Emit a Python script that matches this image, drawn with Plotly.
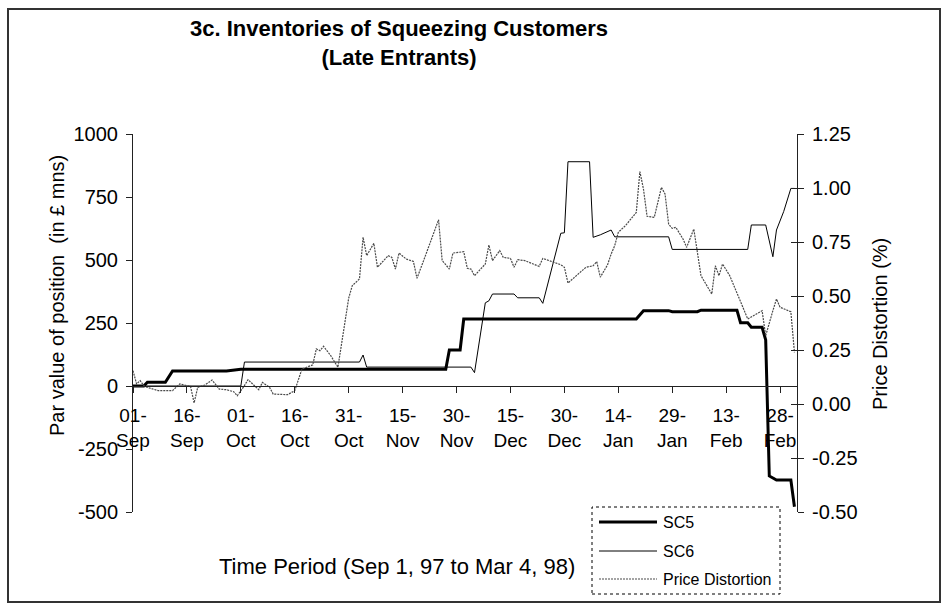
import plotly.graph_objects as go

# ---------------- data ----------------
sc5_dates = ["1997-09-01", "1997-09-04", "1997-09-05", "1997-09-10", "1997-09-12", "1997-09-27",
             "1997-10-01", "1997-11-27", "1997-11-28", "1997-12-01", "1997-12-02", "1998-01-19",
             "1998-01-21", "1998-01-28", "1998-01-29", "1998-02-05", "1998-02-06", "1998-02-16",
             "1998-02-17", "1998-02-19", "1998-02-20", "1998-02-23", "1998-02-24", "1998-02-25",
             "1998-02-27", "1998-03-03", "1998-03-04"]
sc5_values = [0, 0, 15, 15, 60, 60, 66, 66, 143, 143, 266, 266, 299, 299, 295, 295, 301, 301,
              251, 251, 233, 233, 183, -357, -373, -373, -479]

sc6_dates = ["1997-09-01", "1997-10-01", "1997-10-02", "1997-11-03", "1997-11-04", "1997-11-05",
             "1997-12-04", "1997-12-05", "1997-12-08", "1997-12-09", "1997-12-10", "1997-12-16",
             "1997-12-17", "1997-12-23", "1997-12-24", "1997-12-29", "1997-12-30", "1997-12-31",
             "1998-01-06", "1998-01-07", "1998-01-09", "1998-01-12", "1998-01-13", "1998-01-28",
             "1998-01-29", "1998-02-19", "1998-02-20", "1998-02-24", "1998-02-26", "1998-02-27",
             "1998-03-01", "1998-03-02", "1998-03-03", "1998-03-04"]
sc6_values = [0, 0, 95, 95, 123, 75, 75, 53, 330, 338, 365, 365, 350, 350, 328, 606, 608, 890,
              890, 590, 600, 619, 592, 592, 542, 542, 639, 639, 513, 619, 692, 740, 784, 784]

price_dates = ["1997-09-01", "1997-09-02", "1997-09-03", "1997-09-04", "1997-09-05", "1997-09-08",
               "1997-09-12", "1997-09-14", "1997-09-16", "1997-09-17", "1997-09-18", "1997-09-19",
               "1997-09-21", "1997-09-23", "1997-09-25", "1997-09-27", "1997-09-29", "1997-09-30",
               "1997-10-02", "1997-10-03", "1997-10-04", "1997-10-06", "1997-10-07", "1997-10-09",
               "1997-10-10", "1997-10-14", "1997-10-16", "1997-10-17", "1997-10-18", "1997-10-21",
               "1997-10-22", "1997-10-23", "1997-10-24", "1997-10-26", "1997-10-28", "1997-10-31",
               "1997-11-01", "1997-11-03", "1997-11-04", "1997-11-05", "1997-11-07", "1997-11-08",
               "1997-11-11", "1997-11-12", "1997-11-13", "1997-11-14", "1997-11-16", "1997-11-18",
               "1997-11-19", "1997-11-21", "1997-11-25", "1997-11-26", "1997-11-28", "1997-11-29",
               "1997-12-02", "1997-12-03", "1997-12-04", "1997-12-05", "1997-12-08", "1997-12-09",
               "1997-12-10", "1997-12-12", "1997-12-13", "1997-12-15", "1997-12-16", "1997-12-17",
               "1997-12-19", "1997-12-23", "1997-12-24", "1997-12-29", "1997-12-30", "1997-12-31",
               "1998-01-02", "1998-01-05", "1998-01-07", "1998-01-08", "1998-01-09", "1998-01-11",
               "1998-01-12", "1998-01-13", "1998-01-14", "1998-01-16", "1998-01-19", "1998-01-20",
               "1998-01-21", "1998-01-22", "1998-01-24", "1998-01-26", "1998-01-27", "1998-01-28",
               "1998-01-29", "1998-01-30", "1998-02-01", "1998-02-02", "1998-02-04", "1998-02-05",
               "1998-02-06", "1998-02-09", "1998-02-10", "1998-02-11", "1998-02-12", "1998-02-14",
               "1998-02-16", "1998-02-19", "1998-02-23", "1998-02-24", "1998-02-26", "1998-02-27",
               "1998-02-28", "1998-03-03", "1998-03-04"]
price_values = [0.154, 0.093, 0.108, 0.085, 0.077, 0.062, 0.062, 0.093, 0.085, 0.082, 0.005, 0.077,
                0.088, 0.111, 0.069, 0.066, 0.057, 0.038, 0.085, 0.113, 0.097, 0.066, 0.100, 0.077,
                0.046, 0.043, 0.062, 0.116, 0.162, 0.181, 0.255, 0.247, 0.267, 0.224, 0.170, 0.490,
                0.548, 0.579, 0.772, 0.687, 0.744, 0.633, 0.687, 0.679, 0.625, 0.699, 0.671, 0.660,
                0.582, 0.671, 0.853, 0.664, 0.625, 0.699, 0.705, 0.628, 0.625, 0.594, 0.648, 0.736,
                0.664, 0.710, 0.679, 0.674, 0.633, 0.668, 0.664, 0.637, 0.674, 0.645, 0.633, 0.560,
                0.591, 0.633, 0.640, 0.659, 0.587, 0.644, 0.694, 0.733, 0.795, 0.826, 0.887, 1.076,
                0.995, 0.869, 0.864, 1.003, 0.972, 0.833, 0.813, 0.818, 0.764, 0.725, 0.810, 0.702,
                0.594, 0.509, 0.640, 0.594, 0.648, 0.594, 0.517, 0.394, 0.432, 0.316, 0.432, 0.486,
                0.448, 0.427, 0.239]

series_names = ["SC5", "SC6", "Price Distortion"]

left_ticks = [-500, -250, 0, 250, 500, 750, 1000]
left_ticktext = ["-500", "-250", "0", "250", "500", "750", "1000"]
right_ticks = [-0.5, -0.25, 0, 0.25, 0.5, 0.75, 1.0, 1.25]
right_ticktext = ["-0.50", "-0.25", "0.00", "0.25", "0.50", "0.75", "1.00", "1.25"]

left_range = [-500, 1000]
right_range = [-0.5, 1.25]
x_start = "1997-09-01"
x_end = "1998-03-04 17:00"
FONT = "Liberation Sans, Arial, sans-serif"

styles = [
    dict(color="#000000", width=3),
    dict(color="#000000", width=1),
    dict(color="#4a4a4a", width=1.2, dash="2px,1px"),
]

# ---------------- figure ----------------
fig = go.Figure()
fig.add_trace(go.Scatter(x=sc5_dates, y=sc5_values, name=series_names[0], mode="lines",
                         line=styles[0], yaxis="y"))
fig.add_trace(go.Scatter(x=sc6_dates, y=sc6_values, name=series_names[1], mode="lines",
                         line=styles[1], yaxis="y"))
fig.add_trace(go.Scatter(x=price_dates, y=price_values, name=series_names[2], mode="lines",
                         line=styles[2], yaxis="y2"))
# carrier for the inside ticks of the right axis
fig.add_trace(go.Scatter(x=[x_start], y=[None], yaxis="y3", showlegend=False,
                         hoverinfo="skip", mode="lines"))

W, H = 947, 609
L, R, T, B = 133, 150, 134, 97
pw, ph = W - L - R, H - T - B


def px(xp):
    return (xp - L) / pw


def py(yp):
    return (H - B - yp) / ph


axis_common = dict(showline=True, linecolor="#222", linewidth=1, showgrid=False,
                   zeroline=False, tickcolor="#222", ticklen=6)

fig.update_layout(
    width=W, height=H,
    margin=dict(l=L, r=R, t=T, b=B, autoexpand=False),
    paper_bgcolor="white", plot_bgcolor="white",
    font=dict(family=FONT, color="#000000", size=18),
    showlegend=False,
    xaxis=dict(type="date", range=[x_start, x_end], anchor="free", position=1 / 3,
               tick0=x_start, dtick=15 * 86400000, tickformat="%d-<br>%b",
               ticks="outside", ticklabelstandoff=6, tickfont=dict(size=19), **axis_common),
    yaxis=dict(range=left_range, tickvals=left_ticks, ticktext=left_ticktext,
               ticks="outside", ticklabelstandoff=4, tickfont=dict(size=20), **axis_common),
    yaxis2=dict(range=right_range, tickvals=right_ticks, ticktext=right_ticktext,
                overlaying="y", side="right", anchor="x", ticks="outside",
                ticklabelstandoff=4, tickfont=dict(size=20), **axis_common),
    yaxis3=dict(range=right_range, tickvals=right_ticks, overlaying="y", side="right",
                anchor="x", ticks="inside", ticklen=6, tickcolor="#222",
                showticklabels=False, showline=False, showgrid=False, zeroline=False),
)

annotations = [
    dict(text="<b>3c. Inventories of Squeezing Customers</b><br><b>(Late Entrants)</b>",
         x=px(399), y=py(43), xref="paper", yref="paper", showarrow=False,
         xanchor="center", yanchor="middle", font=dict(size=22, family=FONT)),
    dict(text="Par value of position  (in £ mns)", x=px(57), y=py(296), xref="paper",
         yref="paper", showarrow=False, textangle=-90, xanchor="center", yanchor="middle",
         font=dict(size=20, family=FONT)),
    dict(text="Price Distortion (%)", x=px(880), y=py(324), xref="paper", yref="paper",
         showarrow=False, textangle=-90, xanchor="center", yanchor="middle",
         font=dict(size=20, family=FONT)),
    dict(text="Time Period (Sep 1, 97 to Mar 4, 98)", x=px(397), y=py(566), xref="paper",
         yref="paper", showarrow=False, xanchor="center", yanchor="middle",
         font=dict(size=22, family=FONT)),
]

shapes = [
    # outer chart frame
    dict(type="rect", xref="paper", yref="paper", x0=px(8), x1=px(940), y0=py(602), y1=py(9),
         line=dict(color="#333333", width=2), fillcolor="rgba(0,0,0,0)", layer="above"),
    # legend frame (dotted)
    dict(type="rect", xref="paper", yref="paper", x0=px(592), x1=px(780), y0=py(594), y1=py(507),
         line=dict(color="#000000", width=1, dash="dot"), fillcolor="white", layer="above"),
]

# legend entries (sample line + label), drawn in the legend box
legend_rows = [522, 551, 579]
for name, style, row in zip(series_names, styles, legend_rows):
    shapes.append(dict(type="line", xref="paper", yref="paper", x0=px(599), x1=px(657),
                       y0=py(row), y1=py(row), layer="above",
                       line=dict(color=style["color"], width=style["width"],
                                 dash=style.get("dash", "solid"))))
    annotations.append(dict(text=name, x=px(661), y=py(row), xref="paper", yref="paper",
                            showarrow=False, xanchor="left", yanchor="middle",
                            font=dict(size=16, family=FONT)))

fig.update_layout(annotations=annotations, shapes=shapes)

fig.write_html("out.html",
               config={"displayModeBar": False, "staticPlot": True},
               post_script="document.body.style.margin='0px';"
                           "document.body.style.overflow='hidden';")
